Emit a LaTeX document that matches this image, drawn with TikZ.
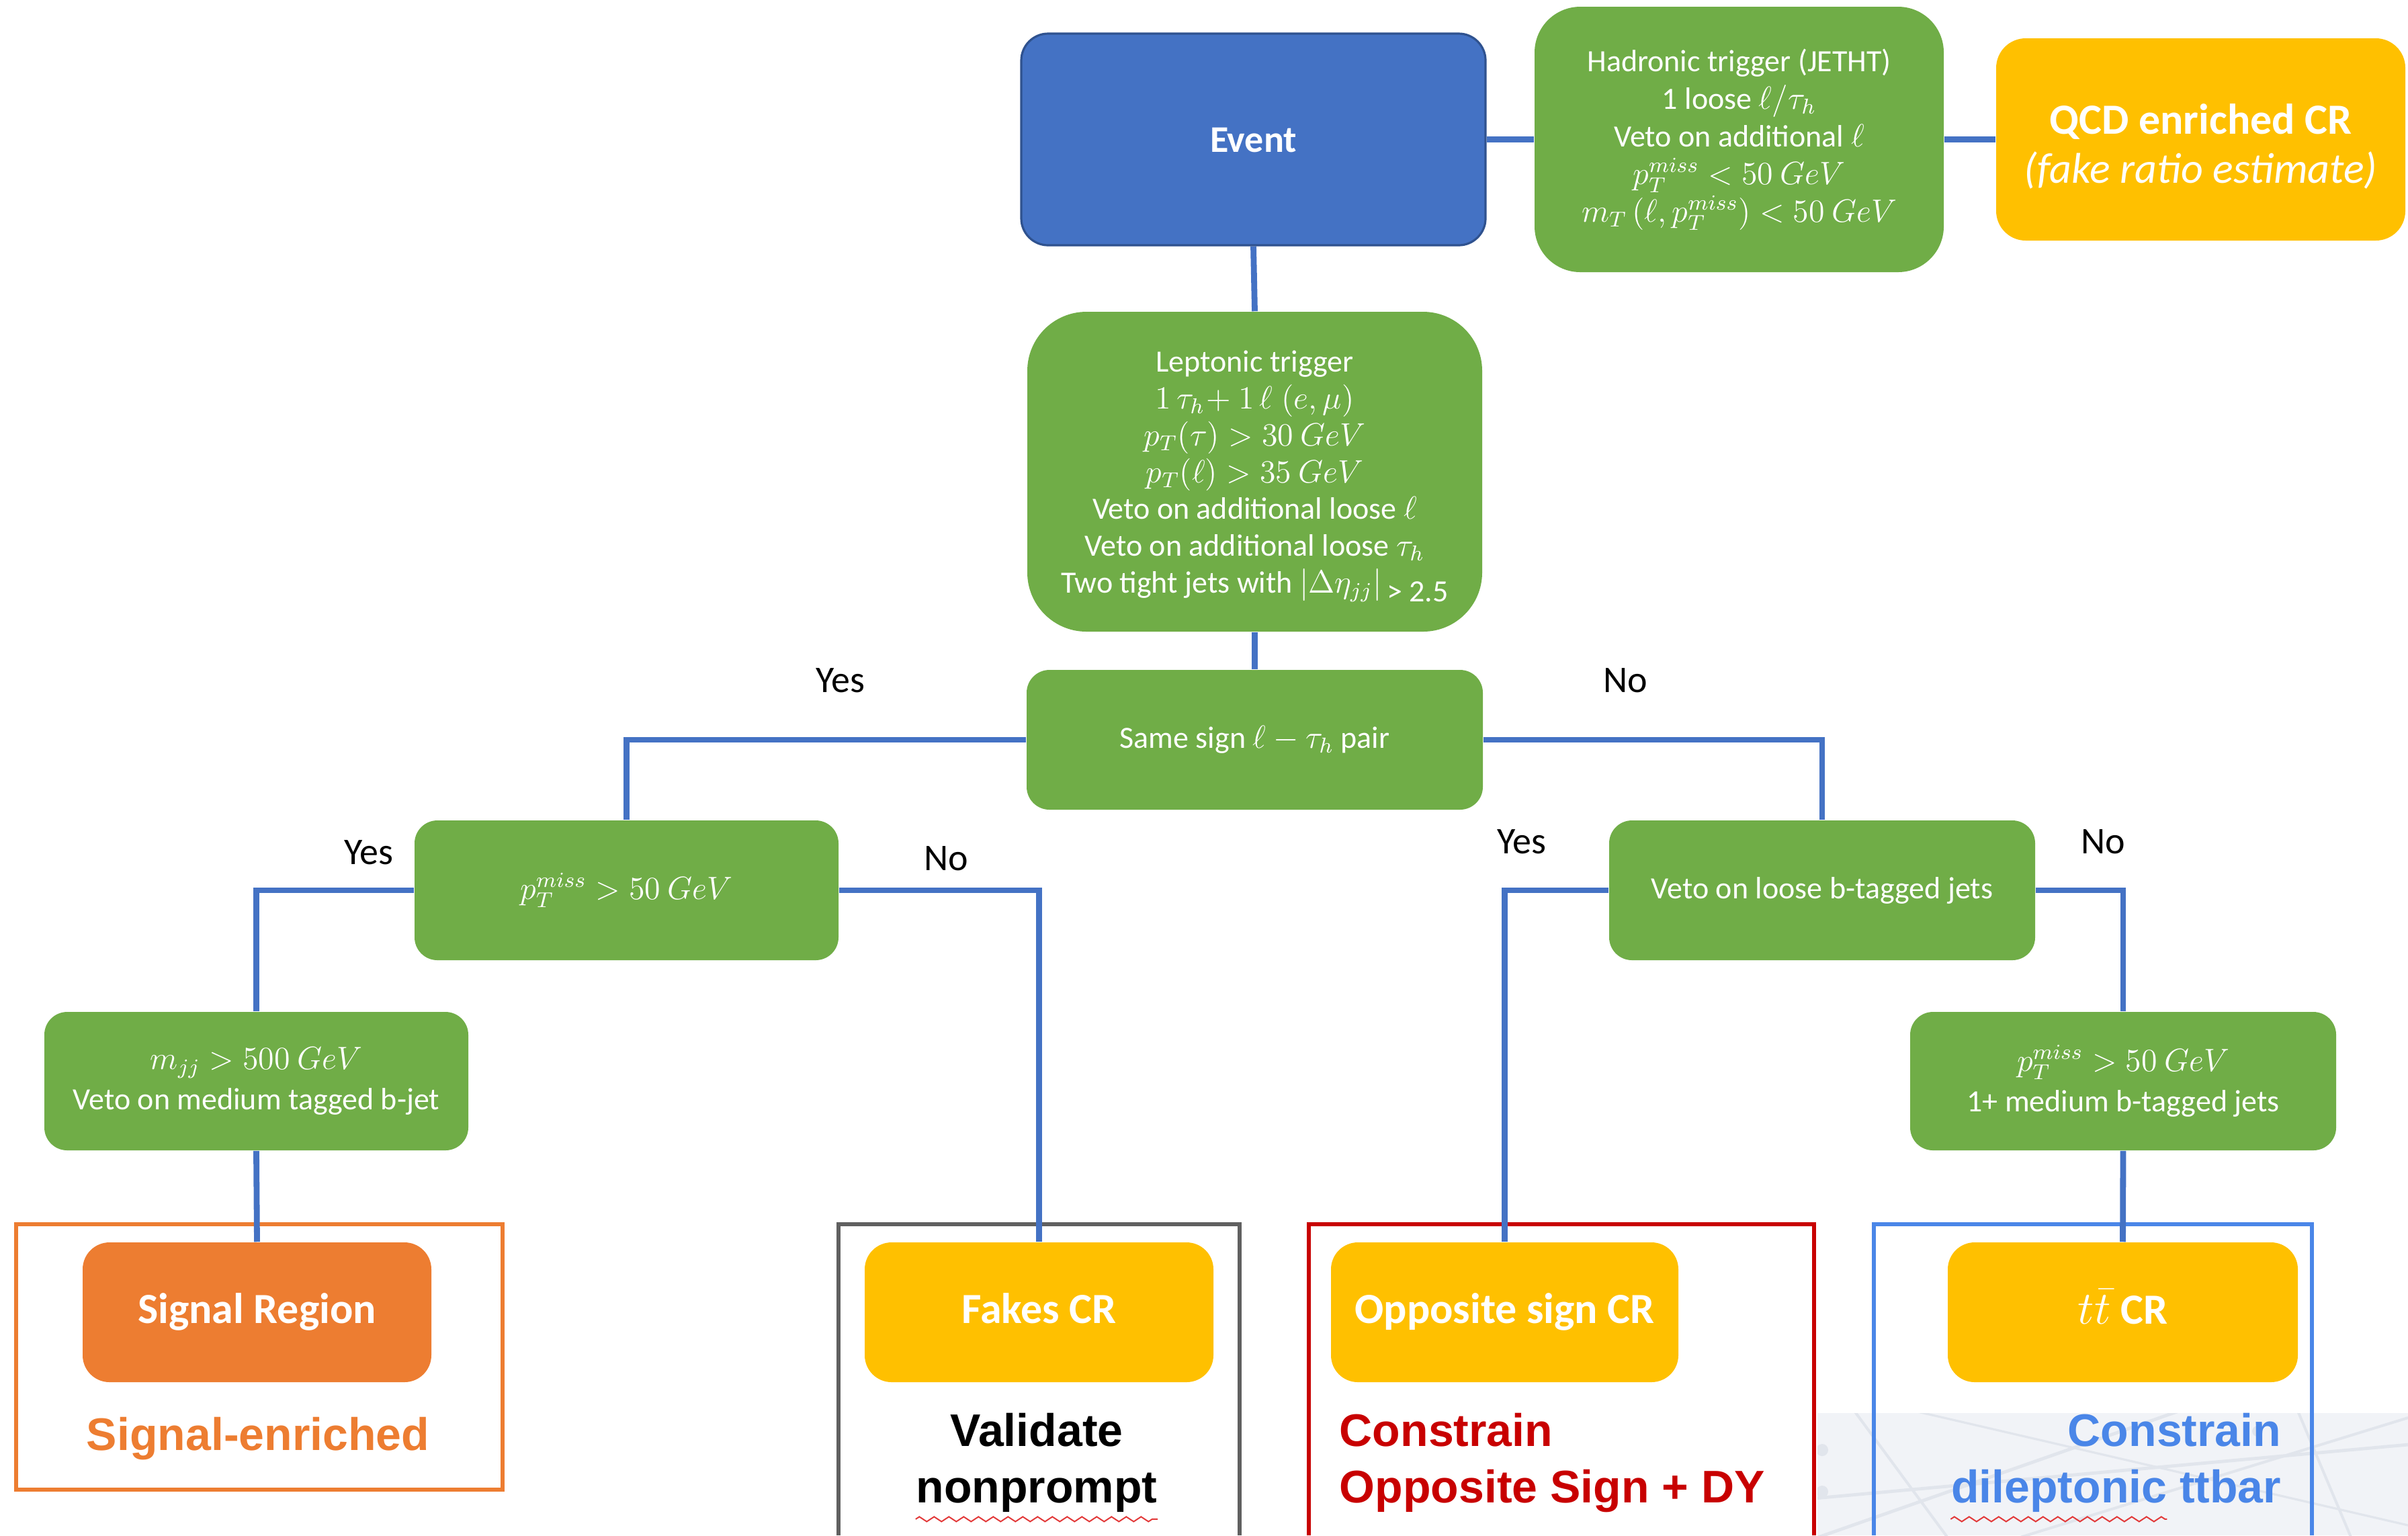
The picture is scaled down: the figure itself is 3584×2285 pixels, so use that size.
\documentclass[tikz,border=0pt]{standalone}
\usepackage{fontspec}
\setmainfont{Carlito}
\newfontfamily\arialfont{Liberation Sans}
\usetikzlibrary{calc,decorations.pathmorphing}

\definecolor{evblue}{HTML}{4472C4}
\definecolor{evborder}{HTML}{2F528F}
\definecolor{selgreen}{HTML}{70AD47}
\definecolor{crgold}{HTML}{FFC000}
\definecolor{sigorange}{HTML}{ED7D31}
\definecolor{linkblue}{HTML}{4472C4}
\definecolor{framegray}{HTML}{606060}
\definecolor{osred}{HTML}{C80000}
\definecolor{ttblue}{HTML}{4A86E8}
\definecolor{spellred}{HTML}{E23A3A}
\definecolor{haze}{HTML}{F1F3F7}
\definecolor{hazeline}{HTML}{E1E5EC}

% fixed height and depth so every region label sits on the same baseline
\newcommand{\labelstrut}{\rule[-4.3pt]{0pt}{17pt}}

\pgfdeclarelayer{frames}
\pgfdeclarelayer{links}
\pgfsetlayers{frames,links,main}

\begin{document}
\begin{tikzpicture}[x=0.25pt,y=-0.25pt,
  sized/.style 2 args={minimum width=#1*0.25pt, minimum height=#2*0.25pt,
    inner sep=0pt, align=center, text=white},
  selbox/.style={fill=selgreen, rounded corners=8.5pt,
    font=\fontsize{11.5}{14}\selectfont},
  crbox/.style={fill=crgold, rounded corners=10pt,
    font=\fontsize{16}{19}\selectfont\bfseries},
  link/.style={draw=linkblue, line width=2.2pt},
  answer/.style={font=\fontsize{14}{16}\selectfont, text=black, inner sep=0pt},
  goal/.style={font=\arialfont\fontsize{17}{21}\selectfont\bfseries, inner sep=0pt},
  frame/.style={line width=1.7pt},
  spell/.style={draw=spellred, line width=0.5pt, decorate,
    decoration={zigzag, segment length=5.5pt, amplitude=0.9pt}}
]
\useasboundingbox (0,0) rectangle (3584,2285);

% faint backdrop in the lower right corner
\begin{pgfonlayer}{frames}
  \fill[haze] (2705,2103) rectangle (3584,2285);
  \begin{scope}
    \clip (2705,2103) rectangle (3584,2285);
    \draw[hazeline, line width=1.2pt] (2700,2290) -- (3300,2080);
    \draw[hazeline, line width=1.2pt] (2700,2230) -- (3584,2150);
    \draw[hazeline, line width=1pt] (2760,2100) -- (2900,2290);
    \draw[hazeline, line width=1pt] (3000,2290) -- (3584,2110);
    \draw[hazeline, line width=1pt] (3420,2100) -- (3500,2290);
    \draw[hazeline, line width=0.8pt] (2850,2100) -- (3584,2270);
    \fill[hazeline] (2712,2158) circle (9);
    \fill[hazeline] (2712,2220) circle (9);
    \fill[hazeline] (3360,2130) circle (8);
  \end{scope}
  % frames around the final regions
  \draw[frame, sigorange] (24,1822) rectangle (748,2217);
  \draw[frame, framegray] (1248,2285) -- (1248,1822) -- (1845,1822) -- (1845,2285);
  \draw[frame, osred] (1948,2285) -- (1948,1822) -- (2700,1822) -- (2700,2285);
  \draw[frame, ttblue] (2789,2285) -- (2789,1822) -- (3441,1822) -- (3441,2285);
\end{pgfonlayer}

% top row
\node[sized={691}{315}, fill=evblue, draw=evborder, line width=0.8pt,
  rounded corners=10pt, font=\fontsize{14}{17}\selectfont\bfseries]
  (event) at (1865.5,207.5) {\rule[-2pt]{0pt}{13.7pt}Event};
\node[sized={609}{395}, selbox, rounded corners=17pt] (had) at (2588.5,207.5)
  {Hadronic trigger (JETHT)\\
   1 loose $\ell/\tau_h$\\
   Veto on additional $\ell$\\
   $p_T^{miss} < 50~GeV$\\
   $m_T\left(\ell, p_T^{miss}\right) < 50~GeV$};
\node[sized={609}{301}, fill=crgold, rounded corners=11pt,
  font=\fontsize{16}{18.3}\selectfont] (qcd) at (3275.5,207.5)
  {\rule{0pt}{16.5pt}\textbf{QCD enriched CR}\\\textit{(fake ratio estimate)}};

% preselection
\node[sized={677}{476}, selbox, rounded corners=22pt, font=\fontsize{11.5}{13.7}\selectfont]
  (lep) at (1867.5,702)
  {\rule{0pt}{11.4pt}Leptonic trigger\\
   $1\,\tau_h\!+1\,\ell\;(e,\mu)$\\
   $p_T(\tau) > 30~GeV$\\
   $p_T(\ell) > 35~GeV$\\
   Veto on additional loose $\ell$\\
   Veto on additional loose $\tau_h$\\
   Two tight jets with $|\Delta\eta_{jj}|$\raisebox{-0.6ex}{\,> 2.5}};

\node[sized={679}{208}, selbox] (same) at (1867.5,1101)
  {Same sign $\ell - \tau_h$ pair};

% same-sign branch
\node[sized={631}{208}, selbox] (ptl) at (932.5,1325)
  {$p_T^{miss} > 50~GeV$};
\node[sized={631}{206}, selbox, font=\fontsize{11.5}{15}\selectfont] (mjj) at (381.5,1609)
  {$m_{jj} > 500~GeV$\\Veto on medium tagged b-jet};

% opposite-sign branch
\node[sized={634}{208}, selbox] (veto) at (2712,1325)
  {Veto on loose b-tagged jets};
\node[sized={634}{206}, selbox, font=\fontsize{11.5}{15}\selectfont] (ptr) at (3160,1609)
  {$p_T^{miss} > 50~GeV$\\1+ medium b-tagged jets};

% regions
\node[sized={519}{208}, crbox, fill=sigorange] (sr) at (382.5,1953) {\labelstrut Signal Region};
\node[sized={519}{208}, crbox] (fakes) at (1546.5,1953) {\labelstrut Fakes CR};
\node[sized={517}{208}, crbox] (os) at (2239.5,1953) {\labelstrut Opposite sign CR};
\node[sized={521}{208}, crbox] (tt) at (3159.5,1953) {\labelstrut$t\bar{t}$ CR};

% connectors
\begin{pgfonlayer}{links}
  \draw[link] (event.east) -- (had.west);
  \draw[link] (had.east) -- (qcd.west);
  \draw[link] (event.south) -- (lep.north);
  \draw[link] (lep.south) -- (same.north);
  \draw[link] (same.west) -| (ptl.north);
  \draw[link] (same.east) -| (veto.north);
  \draw[link] (ptl.west) -| (mjj.north);
  \draw[link] (ptl.east) -| (fakes.north);
  \draw[link] (mjj.south) -- (sr.north);
  \draw[link] (veto.west) -| (os.north);
  \draw[link] (veto.east) -| (ptr.north);
  \draw[link] (ptr.south) -- (tt.north);
\end{pgfonlayer}

% decision labels
\node[answer] (y1) at (1251,1013) {Yes};
\node[answer] (n1) at (2419,1013) {No};
\node[answer] (y2) at (549,1269) {Yes};
\node[answer] (n2) at (1408,1278) {No};
\node[answer] (y3) at (2265,1253) {Yes};
\node[answer] (n3) at (3130,1253) {No};

% purpose of each region
\node[goal, text=sigorange, anchor=base] (g1) at (384,2158) {Signal-enriched};
\node[goal, text=black, anchor=base] (g2a) at (1543,2152) {Validate};
\node[goal, text=black, anchor=base] (g2b) at (1543,2236) {nonprompt};
\node[goal, text=osred, anchor=base west] (g3a) at (1993,2152) {Constrain};
\node[goal, text=osred, anchor=base west] (g3b) at (1993,2236) {Opposite Sign + DY};
\node[goal, text=ttblue, anchor=base east] (g4a) at (3396,2152) {Constrain};
\node[goal, text=ttblue, anchor=base east] (g4b) at (3396,2236) {dileptonic ttbar};

% spell-check marks under two words
\draw[spell] ($(g2b.south west)+(0,10)$) -- ($(g2b.south east)+(0,10)$);
\draw[spell] ($(g4b.south west)+(0,10)$) -- ($(g4b.south west)+(322,10)$);
\end{tikzpicture}
\end{document}
